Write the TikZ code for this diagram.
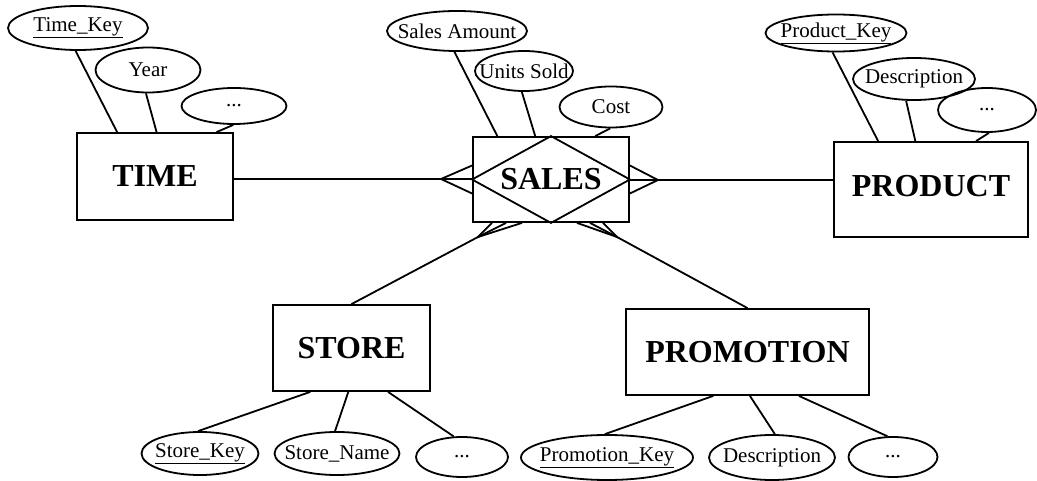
\documentclass[tikz,border=0pt]{standalone}
\usepackage{fontspec}
\setmainfont{Liberation Serif}
\usetikzlibrary{shapes.geometric,calc}
\begin{document}
\begin{tikzpicture}[x=1pt,y=-1pt,line width=1.8pt,
  entity/.style={draw,rectangle,inner sep=0pt,font=\fontsize{32}{36}\selectfont\bfseries},
  attr/.style={draw,ellipse,inner xsep=-12pt,inner ysep=0pt,font=\fontsize{21}{24}\selectfont}]
\useasboundingbox (0,0) rectangle (1037,481);

% entities
\node[entity,minimum width=156pt,minimum height=87pt] (time) at (155,176.5) {TIME};
\node[entity,minimum width=194pt,minimum height=95pt,text depth=8pt] (product) at (931,189.5) {PRODUCT};
\node[entity,minimum width=157pt,minimum height=86pt] (store) at (351.5,348) {STORE};
\node[entity,minimum width=243pt,minimum height=86pt] (promo) at (747.5,352) {PROMOTION};

% associative entity: box with a diamond inside
\node[entity,minimum width=156pt,minimum height=85pt] (sales) at (551,179.5) {SALES};
\draw (sales.north) -- (sales.east) -- (sales.south) -- (sales.west) -- cycle;

% attributes of TIME
\node[attr,minimum width=140pt,minimum height=44pt] (tk) at (78,28) {\underline{Time\_Key}};
\node[attr,minimum width=105pt,minimum height=45pt] (yr) at (148,70) {Year};
\node[attr,minimum width=105pt,minimum height=36pt] (tm) at (234,106) {...};
\draw (tk.-96) -- ($(time.north west)!0.26!(time.north east)$);
\draw (yr.-95) -- ($(time.north west)!0.51!(time.north east)$);
\draw (tm.-92) -- ($(time.north west)!0.89!(time.north east)$);

% attributes of SALES
\node[attr,minimum width=140pt,minimum height=40pt] (sa) at (457,31) {Sales Amount};
\node[attr,minimum width=98pt,minimum height=40pt] (us) at (524,71) {Units Sold};
\node[attr,minimum width=103pt,minimum height=41pt] (co) at (611,107) {Cost};
\draw (sa.-97) -- ($(sales.north west)!0.16!(sales.north east)$);
\draw (us.-96) -- ($(sales.north west)!0.40!(sales.north east)$);
\draw (co.-92) -- ($(sales.north west)!0.78!(sales.north east)$);

% attributes of PRODUCT
\node[attr,minimum width=141pt,minimum height=37pt] (pk) at (836,33) {\underline{Product\_Key}};
\node[attr,minimum width=122pt,minimum height=42pt] (pd) at (914,79) {Description};
\node[attr,minimum width=98pt,minimum height=44pt] (pm) at (987,110) {...};
\draw (pk.-100) -- ($(product.north west)!0.23!(product.north east)$);
\draw (pd.-110) -- ($(product.north west)!0.42!(product.north east)$);
\draw (pm.-85) -- ($(product.north west)!0.73!(product.north east)$);

% attributes of STORE
\node[attr,minimum width=117pt,minimum height=43pt] (sk) at (200,453.5) {\underline{Store\_Key}};
\node[attr,minimum width=125pt,minimum height=43pt] (sn) at (337,453.5) {Store\_Name};
\node[attr,minimum width=92pt,minimum height=40pt] (sm) at (462,457) {...};
\draw ($(store.south west)!0.24!(store.south east)$) -- (sk.95);
\draw ($(store.south west)!0.48!(store.south east)$) -- (sn.95);
\draw ($(store.south west)!0.73!(store.south east)$) -- (sm.112);

% attributes of PROMOTION
\node[attr,minimum width=172pt,minimum height=45pt] (mk) at (607,457.5) {\underline{Promotion\_Key}};
\node[attr,minimum width=126pt,minimum height=45pt] (md) at (772,457.5) {Description};
\node[attr,minimum width=89pt,minimum height=40pt] (mm) at (893,457) {...};
\draw ($(promo.south west)!0.36!(promo.south east)$) -- (mk.95);
\draw ($(promo.south west)!0.51!(promo.south east)$) -- (md.83);
\draw ($(promo.south west)!0.71!(promo.south east)$) -- (mm.105);

% relationships with crow's feet at SALES
\coordinate (tipL) at (441,179);
\coordinate (tipR) at (658,180);
\coordinate (tipS) at (478,237);
\coordinate (tipP) at (617,237);

\draw (tipL -| time.east) -- (tipL) -- (tipL -| sales.west);
\draw ($(sales.west)+(0,-14)$) -- (tipL) -- ($(sales.west)+(0,14)$);

\draw (tipR -| product.west) -- (tipR) -- (tipR -| sales.east);
\draw ($(sales.east)+(0,-14)$) -- (tipR) -- ($(sales.east)+(0,14)$);

\draw (store.north) -- (tipS) -- ($(sales.south)+(-45,0)$);
\draw ($(sales.south)+(-59,0)$) -- (tipS) -- ($(sales.south)+(-29,0)$);

\draw (promo.north) -- (tipP) -- ($(sales.south)+(39,0)$);
\draw ($(sales.south)+(26,0)$) -- (tipP) -- ($(sales.south)+(52,0)$);
\end{tikzpicture}
\end{document}
